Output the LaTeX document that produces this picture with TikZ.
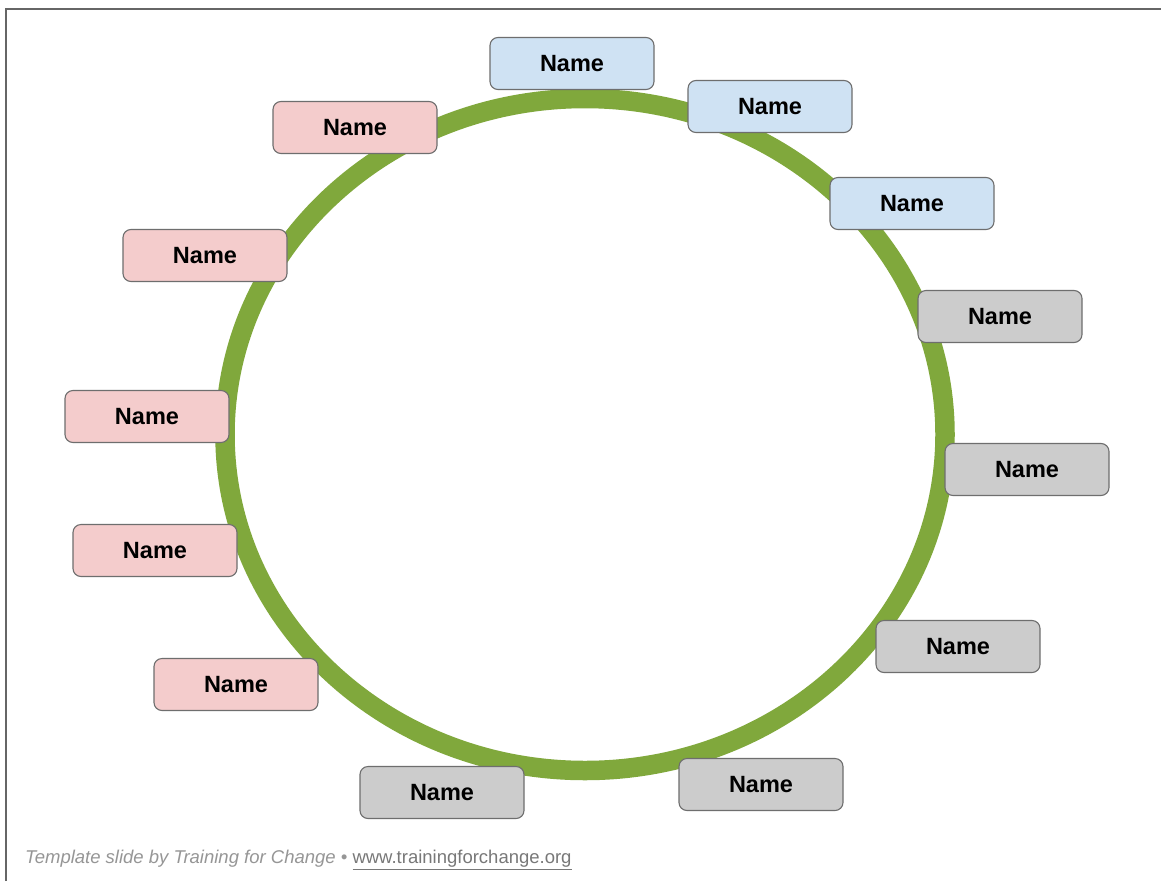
\documentclass[tikz,border=0pt]{standalone}
\usepackage{fontspec}
\setmainfont{Liberation Sans}
\definecolor{ringgreen}{RGB}{128,168,60}
\definecolor{bluefill}{RGB}{207,226,243}
\definecolor{pinkfill}{RGB}{244,204,204}
\definecolor{grayfill}{RGB}{204,204,204}
\definecolor{boxline}{RGB}{110,110,110}
\definecolor{framegray}{RGB}{102,102,102}
\definecolor{foot}{RGB}{150,150,150}
\tikzset{
  namebox/.style={draw=boxline, line width=1.1pt, rounded corners=8pt,
    minimum width=164pt, minimum height=52pt, inner sep=0pt,
    font=\fontsize{23.5}{26}\selectfont\bfseries, text=black},
  bluebox/.style={namebox, fill=bluefill},
  pinkbox/.style={namebox, fill=pinkfill},
  graybox/.style={namebox, fill=grayfill},
}
\begin{document}
\begin{tikzpicture}[x=1pt,y=-1pt]
\useasboundingbox (0,0) rectangle (1161,881);
\fill[white] (0,0) rectangle (1161,881);
% frame
\draw[framegray, line width=2.2pt] (6,881) -- (6,9) -- (1161,9);
% ring
\draw[ringgreen, line width=19.5pt] (585,434.5) ellipse [x radius=360, y radius=336];
% boxes
\node[bluebox] (b1) at (572,63.5) {Name};
\node[bluebox] (b2) at (770,106.5) {Name};
\node[bluebox] (b3) at (912,203.5) {Name};
\node[graybox] (g1) at (1000,316.5) {Name};
\node[graybox] (g2) at (1027,469.5) {Name};
\node[graybox] (g3) at (958,646.5) {Name};
\node[graybox] (g4) at (761,784.5) {Name};
\node[graybox] (g5) at (442,792.5) {Name};
\node[pinkbox] (p1) at (236,684.5) {Name};
\node[pinkbox] (p2) at (155,550.5) {Name};
\node[pinkbox] (p3) at (147,416.5) {Name};
\node[pinkbox] (p4) at (205,255.5) {Name};
\node[pinkbox] (p5) at (355,127.5) {Name};
% footer
\node[anchor=west, inner sep=0pt, text=foot, font=\fontsize{18.5}{21}\selectfont] (foot) at (25,860)
  {\textit{Template slide by Training for Change \textbullet{}} {\color{foot!80!black}\underline{www.trainingforchange.org}}};
\end{tikzpicture}
\end{document}
